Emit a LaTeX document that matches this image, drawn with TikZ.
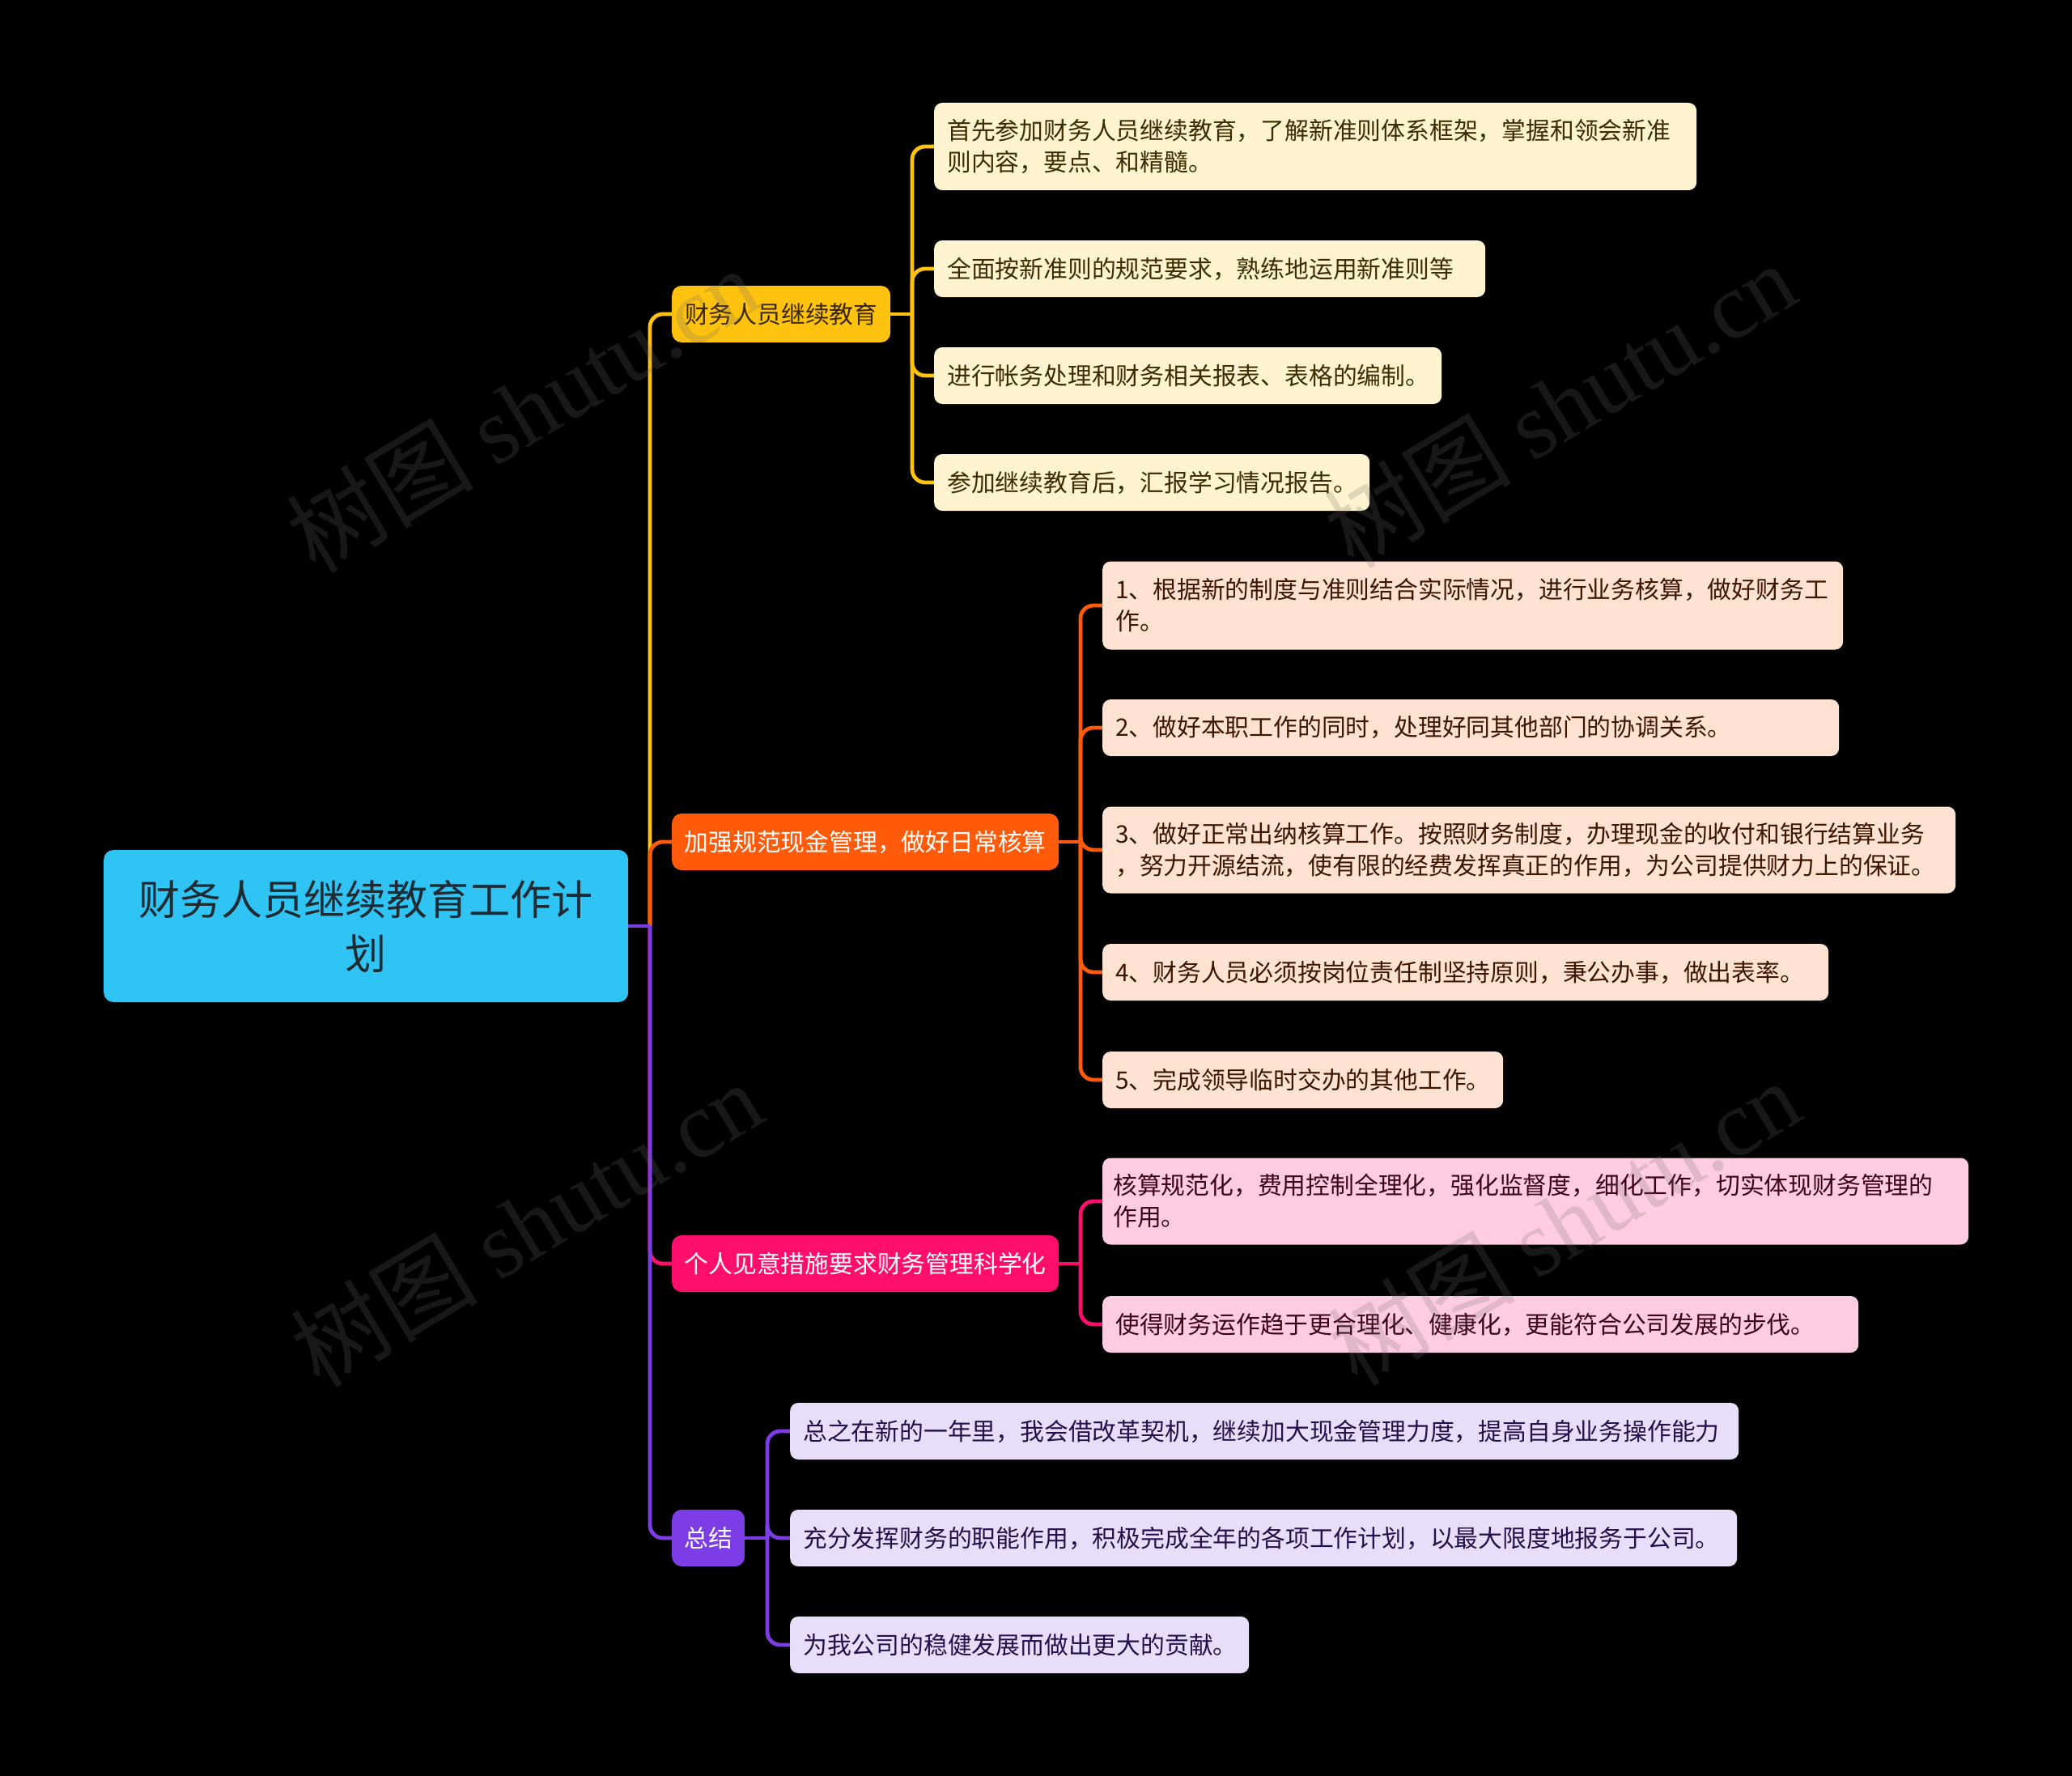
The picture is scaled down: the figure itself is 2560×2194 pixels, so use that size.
\documentclass[tikz,border=0pt]{standalone}
\usepackage{fontspec}
\setmainfont{Noto Sans CJK SC}
\newfontfamily\wmlatin{Liberation Serif}
\newfontfamily\wmcjk{Noto Sans CJK SC}
\definecolor{rootfill}{HTML}{30C4F4}
\definecolor{roottext}{HTML}{1F2B33}
\definecolor{cY}{HTML}{FFC20E}
\definecolor{cO}{HTML}{FF5B0A}
\definecolor{cP}{HTML}{FF0F6B}
\definecolor{cV}{HTML}{7C3DE6}
\definecolor{fY}{HTML}{FFF3D0}
\definecolor{fO}{HTML}{FFE2D2}
\definecolor{fP}{HTML}{FFCCE2}
\definecolor{fV}{HTML}{E9DEFA}
\definecolor{tY}{HTML}{3C2D00}
\definecolor{tO}{HTML}{3D1600}
\definecolor{tP}{HTML}{3D0019}
\definecolor{tV}{HTML}{24104C}
\definecolor{tB1}{HTML}{3A2800}
\definecolor{wmgray}{HTML}{707070}
\pgfdeclarelayer{bgfill}
\pgfdeclarelayer{lines}
\pgfdeclarelayer{wmlayer}
\pgfsetlayers{bgfill,lines,main,wmlayer}
\tikzset{
  x=1pt, y=-1pt,
  rootbox/.style={fill=rootfill, text=roottext, rounded corners=12pt, anchor=west,
    inner xsep=16pt, inner ysep=0pt, align=center,
    font=\fontsize{51}{67}\selectfont},
  branchbox/.style={rounded corners=12pt, anchor=west, inner xsep=15pt, inner ysep=0pt,
    minimum height=70pt, align=center, font=\fontsize{29.8}{39}\selectfont},
  leafbox/.style={rounded corners=10pt, anchor=west, inner xsep=16pt, inner ysep=0pt,
    minimum height=70pt, align=left, font=\fontsize{29.8}{39}\selectfont},
  leafY/.style={leafbox, fill=fY, text=tY},
  leafO/.style={leafbox, fill=fO, text=tO},
  leafP/.style={leafbox, fill=fP, text=tP},
  leafV/.style={leafbox, fill=fV, text=tV},
  conn/.style={line width=4.8pt, rounded corners=16pt},
  wmark/.style={text=wmgray, opacity=0.22, rotate=31, inner sep=0pt,
    font=\fontsize{116}{120}\selectfont},
}
\begin{document}
\begin{tikzpicture}
\begin{pgfonlayer}{bgfill}
\fill[black] (0,0) rectangle (2560,2194);
\end{pgfonlayer}
\useasboundingbox (0,0) rectangle (2560,2194);

% root
\node[rootbox, text width=616pt, minimum height=188pt] (r) at (128,1144) {财务人员继续教育工作计\\划};

% branches
\node[branchbox, fill=cY, text=tB1, text width=240pt] (b1) at (830,388) {财务人员继续教育};
\node[branchbox, fill=cO, text=white, text width=448pt] (b2) at (830,1040) {加强规范现金管理，做好日常核算};
\node[branchbox, fill=cP, text=white, text width=448pt] (b3) at (830,1561) {个人见意措施要求财务管理科学化};
\node[branchbox, fill=cV, text=white, text width=60pt] (b4) at (830,1900) {总结};

% leaves of branch 1
\node[leafY, text width=910pt, minimum height=108pt] (l1) at (1154,181) {首先参加财务人员继续教育，了解新准则体系框架，掌握和领会新准\\则内容，要点、和精髓。};
\node[leafY, text width=649pt] (l2) at (1154,332) {全面按新准则的规范要求，熟练地运用新准则等};
\node[leafY, text width=595pt] (l3) at (1154,464) {进行帐务处理和财务相关报表、表格的编制。};
\node[leafY, text width=506pt] (l4) at (1154,596) {参加继续教育后，汇报学习情况报告。};

% leaves of branch 2
\node[leafO, text width=883pt, minimum height=109pt] (p1) at (1362,748) {1、根据新的制度与准则结合实际情况，进行业务核算，做好财务工\\作。};
\node[leafO, text width=878pt] (p2) at (1362,899) {2、做好本职工作的同时，处理好同其他部门的协调关系。};
\node[leafO, text width=1022pt, minimum height=107pt] (p3) at (1362,1050) {3、做好正常出纳核算工作。按照财务制度，办理现金的收付和银行结算业务\\，努力开源结流，使有限的经费发挥真正的作用，为公司提供财力上的保证。};
\node[leafO, text width=865pt] (p4) at (1362,1201) {4、财务人员必须按岗位责任制坚持原则，秉公办事，做出表率。};
\node[leafO, text width=463pt] (p5) at (1362,1334) {5、完成领导临时交办的其他工作。};

% leaves of branch 3
\node[leafP, text width=1044pt, inner xsep=13pt, minimum height=107pt] (k1) at (1362,1484) {核算规范化，费用控制全理化，强化监督度，细化工作，切实体现财务管理的\\作用。};
\node[leafP, text width=902pt] (k2) at (1362,1636) {使得财务运作趋于更合理化、健康化，更能符合公司发展的步伐。};

% leaves of branch 4
\node[leafV, text width=1140pt] (s1) at (976,1768) {总之在新的一年里，我会借改革契机，继续加大现金管理力度，提高自身业务操作能力};
\node[leafV, text width=1138pt] (s2) at (976,1900) {充分发挥财务的职能作用，积极完成全年的各项工作计划，以最大限度地报务于公司。};
\node[leafV, text width=535pt] (s3) at (976,2032) {为我公司的稳健发展而做出更大的贡献。};

% junction coordinates
\coordinate (j) at (803,1144);
\coordinate (v1) at (1127,388);
\coordinate (v2) at (1335,1040);
\coordinate (v3) at (1335,1561);
\coordinate (v4) at (948,1900);

\begin{pgfonlayer}{lines}
\draw[conn, cY] (j) |- (b1.west);
\draw[conn, cO] (j) |- (b2.west);
\draw[conn, cP] (j) |- (b3.west);
\draw[conn, cV] (j) |- (b4.west);
\draw[conn, cV] (r.east) -- (j);

\draw[conn, cY] (b1.east) -- (v1);
\foreach \n in {l1,l2,l3,l4} \draw[conn, cY] (v1) |- (\n.west);
\draw[conn, cO] (b2.east) -- (v2);
\foreach \n in {p1,p2,p3,p4,p5} \draw[conn, cO] (v2) |- (\n.west);
\draw[conn, cP] (b3.east) -- (v3);
\foreach \n in {k1,k2} \draw[conn, cP] (v3) |- (\n.west);
\draw[conn, cV] (b4.east) -- (v4);
\foreach \n in {s1,s2,s3} \draw[conn, cV] (v4) |- (\n.west);
\end{pgfonlayer}

% watermarks
\begin{pgfonlayer}{wmlayer}
\node[wmark] (w1) at (645,506) {\wmcjk 树图 {\wmlatin shutu.cn}};
\node[wmark] (w2) at (1927,500) {\wmcjk 树图 {\wmlatin shutu.cn}};
\node[wmark] (w3) at (650,1512) {\wmcjk 树图 {\wmlatin shutu.cn}};
\node[wmark] (w4) at (1932,1510) {\wmcjk 树图 {\wmlatin shutu.cn}};
\end{pgfonlayer}
\end{tikzpicture}
\end{document}
